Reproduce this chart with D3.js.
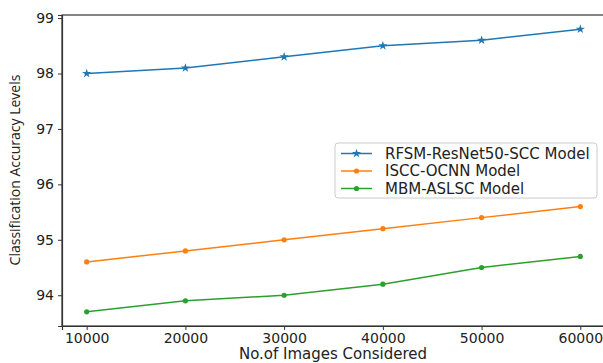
<!DOCTYPE html>
<html lang="en">
<head>
    <meta charset="UTF-8">
    <title>Chart</title>
    <style>
        body { margin: 0; background: #fff; }
        text { font-family: 'DejaVu Sans', sans-serif; fill: #222; }
    </style>
</head>
<body>
    <svg id="svg" width="603" height="363"></svg>

    <script src="https://d3js.org/d3.v7.min.js"></script>
    <script>
        // data
        const images = [10000, 20000, 30000, 40000, 50000, 60000]
        const rfsm = [98.0, 98.1, 98.3, 98.5, 98.6, 98.8]
        const iscc = [94.6, 94.8, 95.0, 95.2, 95.4, 95.6]
        const mbm = [93.7, 93.9, 94.0, 94.2, 94.5, 94.7]
        const seriesNames = ['RFSM-ResNet50-SCC Model', 'ISCC-OCNN Model', 'MBM-ASLSC Model']
        const yTicks = [94, 95, 96, 97, 98, 99]

        const series = [
            { name: seriesNames[0], values: rfsm, color: '#1f77b4', marker: 'star' },
            { name: seriesNames[1], values: iscc, color: '#ff7f0e', marker: 'dot' },
            { name: seriesNames[2], values: mbm, color: '#2ca02c', marker: 'dot' }
        ]

        const plotLeft = 62, plotRight = 605, plotTop = 15, plotBottom = 326

        const xScale = d3.scaleLinear()
            .domain([7500, 62500])
            .range([plotLeft, plotRight])
        const yScale = d3.scaleLinear()
            .domain([93.445, 99.055])
            .range([plotBottom, plotTop])

        const svg = d3.select('#svg')

        // frame
        svg.append('rect')
            .attr('x', plotLeft).attr('y', plotTop)
            .attr('width', plotRight - plotLeft).attr('height', plotBottom - plotTop)
            .attr('fill', 'none')
            .attr('stroke', '#333')
            .attr('stroke-width', 1.2)

        // axes
        const xAxis = svg.append('g')
            .attr('transform', `translate(0,${plotBottom})`)
            .call(d3.axisBottom(xScale).tickValues(images).tickFormat(d3.format('d')).tickSize(4).tickPadding(3))
        const yAxis = svg.append('g')
            .attr('transform', `translate(${plotLeft},0)`)
            .call(d3.axisLeft(yScale).tickValues(yTicks).tickFormat(d3.format('d')).tickSize(4).tickPadding(4))
        ;[xAxis, yAxis].forEach(a => {
            a.select('.domain').attr('stroke', '#333').attr('stroke-width', 1.2)
            a.selectAll('line').attr('stroke', '#333')
            a.selectAll('text')
                .style('font-family', "'DejaVu Sans', sans-serif")
                .style('font-size', '14px')
                .attr('fill', '#222')
        })

        // axis labels
        svg.append('text')
            .text('No.of Images Considered')
            .attr('x', 333)
            .attr('y', 359)
            .attr('text-anchor', 'middle')
            .style('font-size', '15px')
        svg.append('text')
            .text('Classification Accuracy Levels')
            .attr('transform', 'translate(20,170) rotate(-90)')
            .attr('text-anchor', 'middle')
            .style('font-family', "'Open Sans', sans-serif")
            .style('font-size', '14px')

        // lines
        const line = d3.line()
            .x((d, i) => xScale(images[i]))
            .y(d => yScale(d))
        const star = d3.symbol().type(d3.symbolStar).size(26)

        series.forEach(s => {
            svg.append('path')
                .attr('d', line(s.values))
                .attr('fill', 'none')
                .attr('stroke', s.color)
                .attr('stroke-width', 1.5)
            const pts = svg.append('g').selectAll('path')
                .data(s.values)
                .enter()
            if (s.marker === 'star') {
                pts.append('path')
                    .attr('d', star)
                    .attr('transform', (d, i) => `translate(${xScale(images[i])},${yScale(d)})`)
                    .attr('fill', s.color)
            } else {
                pts.append('circle')
                    .attr('cx', (d, i) => xScale(images[i]))
                    .attr('cy', d => yScale(d))
                    .attr('r', 2.6)
                    .attr('fill', s.color)
            }
        })

        // legend
        const legend = svg.append('g')
        legend.append('rect')
            .attr('x', 335).attr('y', 143)
            .attr('width', 262).attr('height', 55)
            .attr('rx', 3)
            .attr('fill', '#fff')
            .attr('fill-opacity', 0.8)
            .attr('stroke', '#ccc')
        series.forEach((s, i) => {
            const y = 153.5 + i * 17.5
            legend.append('line')
                .attr('x1', 341).attr('x2', 372)
                .attr('y1', y).attr('y2', y)
                .attr('stroke', s.color)
                .attr('stroke-width', 1.5)
            if (s.marker === 'star') {
                legend.append('path')
                    .attr('d', star)
                    .attr('transform', `translate(356.5,${y})`)
                    .attr('fill', s.color)
            } else {
                legend.append('circle')
                    .attr('cx', 356.5).attr('cy', y).attr('r', 2.6)
                    .attr('fill', s.color)
            }
            legend.append('text')
                .text(s.name)
                .attr('x', 385)
                .attr('y', y + 5)
                .style('font-size', '15px')
        })
    </script>
</body>
</html>
